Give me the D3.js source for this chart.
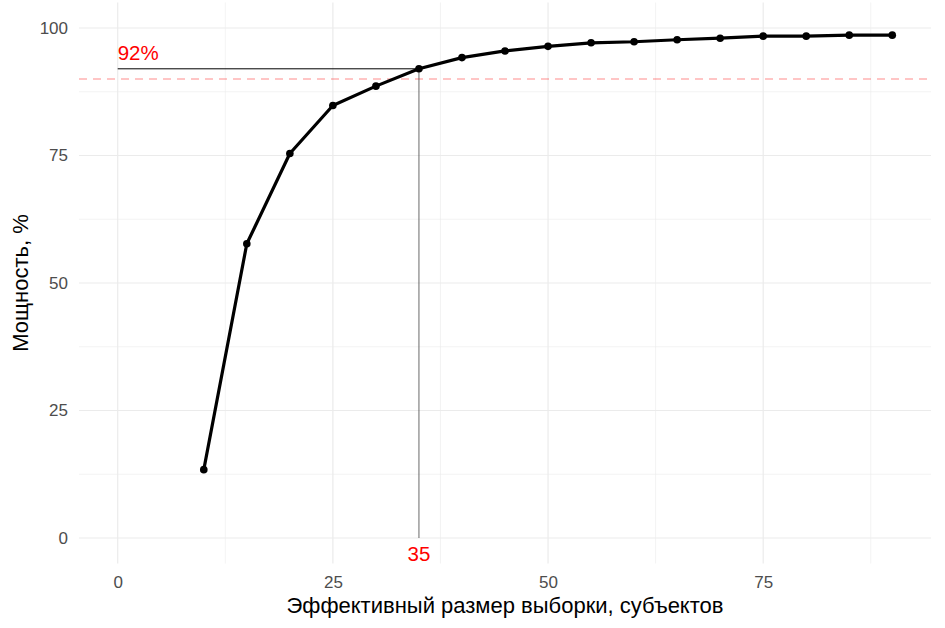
<!DOCTYPE html>
<html><head><meta charset="utf-8">
<script src="https://cdn.jsdelivr.net/npm/d3@7"></script>
<style>body{margin:0;background:#fff}svg{display:block;font-family:"Liberation Sans",Arial,sans-serif}</style>
</head><body>
<svg id="c" width="945" height="628"></svg>
<script>
const sampleSize = [10,15,20,25,30,35,40,45,50,55,60,65,70,75,80,85,90];
const power = [13.4,57.7,75.4,84.8,88.6,92.0,94.2,95.5,96.4,97.1,97.3,97.7,98.0,98.4,98.4,98.6,98.6];
const xTicks = [0,25,50,75];
const yTicks = [0,25,50,75,100];
const xMinor = [12.5,37.5,62.5,87.5];
const yMinor = [12.5,37.5,62.5,87.5];
const targetPower = 90;
const chosenN = 35, chosenPower = 92;
const xTitle = "Эффективный размер выборки, субъектов";
const yTitle = "Мощность, %";

const svg = d3.select("#c");
const L = 79, R = 931, T = 2.5, B = 563.5;
const x = d3.scaleLinear().domain([-4.5, 94.5]).range([L, R]);
const y = d3.scaleLinear().domain([-5, 105]).range([B, T]);

const g = svg.append("g");
// minor grid
g.selectAll(".xm").data(xMinor).join("line").attr("x1",d=>x(d)).attr("x2",d=>x(d)).attr("y1",T).attr("y2",B).attr("stroke","#ebebeb").attr("stroke-width",0.6);
g.selectAll(".ym").data(yMinor).join("line").attr("y1",d=>y(d)).attr("y2",d=>y(d)).attr("x1",L).attr("x2",R).attr("stroke","#ebebeb").attr("stroke-width",0.6);
// major grid
g.selectAll(".xM").data(xTicks).join("line").attr("x1",d=>x(d)).attr("x2",d=>x(d)).attr("y1",T).attr("y2",B).attr("stroke","#ebebeb").attr("stroke-width",1.2);
g.selectAll(".yM").data(yTicks).join("line").attr("y1",d=>y(d)).attr("y2",d=>y(d)).attr("x1",L).attr("x2",R).attr("stroke","#ebebeb").attr("stroke-width",1.2);

// axes (labels only)
const xa = svg.append("g").attr("transform",`translate(0,${B})`).call(d3.axisBottom(x).tickValues(xTicks).tickSize(0).tickPadding(12));
xa.select(".domain").remove();
xa.selectAll("text").attr("font-size","17px").attr("fill","#4d4d4d").attr("font-family","Liberation Sans, Arial, sans-serif");
const ya = svg.append("g").attr("transform",`translate(${L},0)`).call(d3.axisLeft(y).tickValues(yTicks).tickSize(0).tickPadding(11));
ya.select(".domain").remove();
ya.selectAll("text").attr("font-size","17px").attr("fill","#4d4d4d").attr("font-family","Liberation Sans, Arial, sans-serif");

// target dashed line
svg.append("line").attr("x1",L).attr("x2",R).attr("y1",y(targetPower)).attr("y2",y(targetPower))
  .attr("stroke","#ff0000").attr("stroke-opacity",0.3).attr("stroke-width",1.5).attr("stroke-dasharray","8,6");
// reference segments
svg.append("line").attr("x1",x(0)).attr("x2",x(chosenN)).attr("y1",y(chosenPower)).attr("y2",y(chosenPower)).attr("stroke","#000").attr("stroke-width",1);
svg.append("line").attr("x1",x(chosenN)).attr("x2",x(chosenN)).attr("y1",y(chosenPower)).attr("y2",y(0)).attr("stroke","#444").attr("stroke-width",0.8);

// line + points
const line = d3.line().x((d,i)=>x(sampleSize[i])).y(d=>y(d));
svg.append("path").datum(power).attr("d",line).attr("fill","none").attr("stroke","#000").attr("stroke-width",3.2).attr("stroke-linejoin","round");
svg.selectAll(".pt").data(power).join("circle").attr("cx",(d,i)=>x(sampleSize[i])).attr("cy",d=>y(d)).attr("r",3.8).attr("fill","#000");

// annotations
svg.append("text").attr("x",x(0)).attr("y",y(chosenPower)-9).attr("text-anchor","start").attr("fill","red").attr("font-size","20.5px").text(chosenPower+"%");
svg.append("text").attr("x",x(chosenN)).attr("y",B-3).attr("text-anchor","middle").attr("fill","red").attr("font-size","20.5px").text(chosenN);

// titles
svg.append("text").attr("x",(L+R)/2).attr("y",613).attr("text-anchor","middle").attr("font-size","22px").attr("fill","#000").text(xTitle);
svg.append("text").attr("transform",`translate(28,${(T+B)/2}) rotate(-90)`).attr("text-anchor","middle").attr("font-size","22px").attr("fill","#000").text(yTitle);
</script>
</body></html>
